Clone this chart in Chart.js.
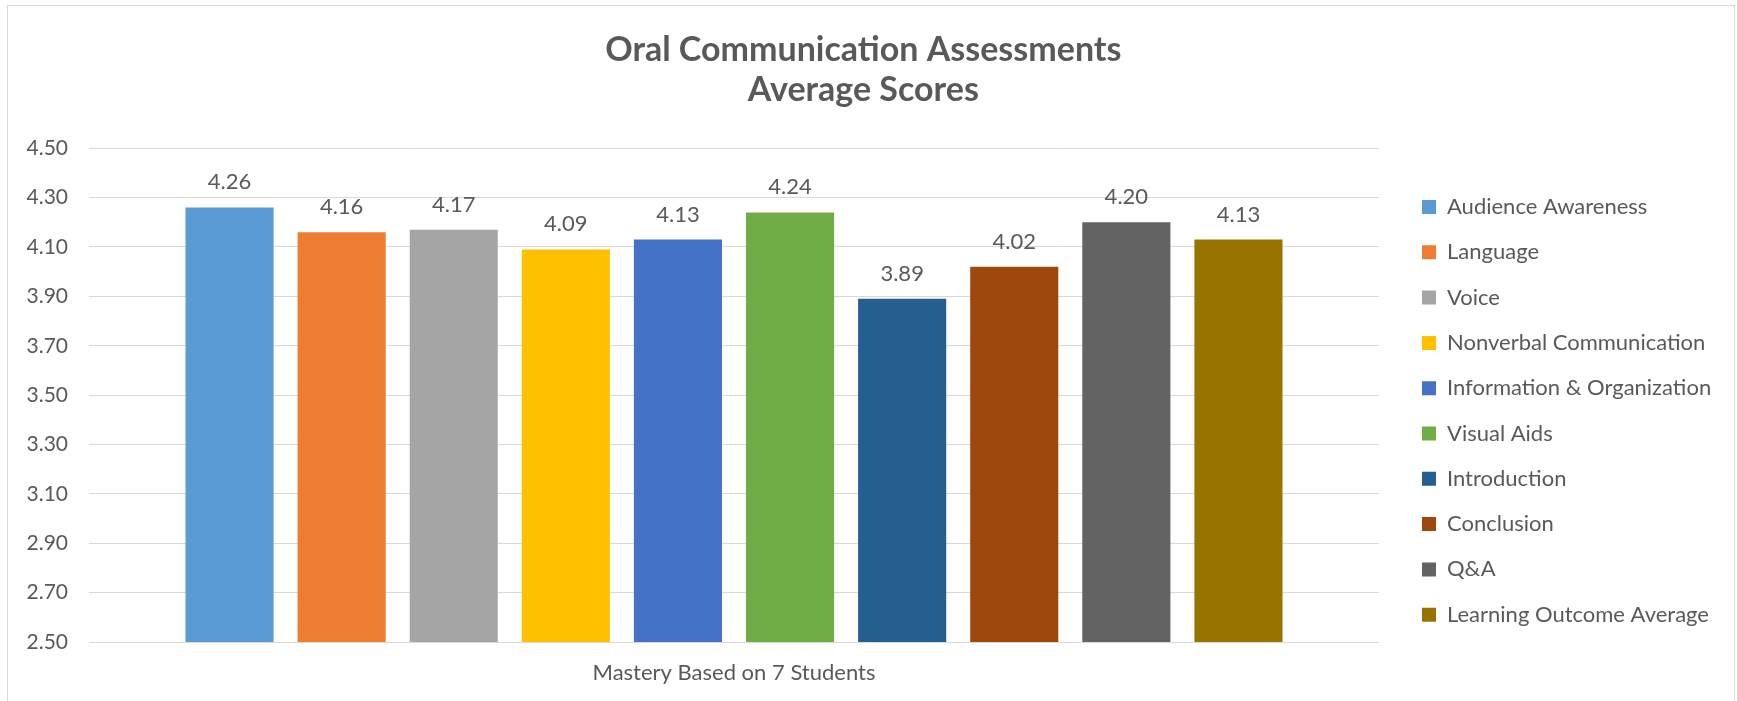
<!DOCTYPE html>
<html>
<head>
<meta charset="utf-8">
<title>Oral Communication Assessments</title>
<script src="https://cdn.jsdelivr.net/npm/chart.js@4.4.0/dist/chart.umd.min.js"></script>
<style>
  html, body { margin: 0; padding: 0; background: #fff; }
</style>
</head>
<body>
<canvas id="scoreChart" width="1737" height="701"></canvas>
<script>
// Chart data
const categories = ['Mastery Based on 7 Students'];
const seriesNames = [
    'Audience Awareness',
    'Language',
    'Voice',
    'Nonverbal Communication',
    'Information & Organization',
    'Visual Aids',
    'Introduction',
    'Conclusion',
    'Q&A',
    'Learning Outcome Average'
];
const seriesValues = [4.26, 4.16, 4.17, 4.09, 4.13, 4.24, 3.89, 4.02, 4.20, 4.13];
const seriesColors = ['#5B9BD5', '#ED7D31', '#A5A5A5', '#FFC000', '#4472C4', '#70AD47', '#255E91', '#9E480E', '#636363', '#997300'];
const yMin = 2.5;
const yMax = 4.5;
const yStep = 0.2;

const textColor = '#595959';
const fontName = 'Lato';
Chart.defaults.font.family = fontName;
Chart.defaults.color = textColor;

// Measure text so the plot and legend land where the reference has them
// (Chart.js axes take tick padding on both sides of the labels)
const measureCtx = document.createElement('canvas').getContext('2d');
measureCtx.font = '22px ' + fontName;
const widestName = Math.max(...seriesNames.map(n => measureCtx.measureText(n).width));
measureCtx.font = '21px ' + fontName;
const widestTick = measureCtx.measureText(yMax.toFixed(2)).width;

const legendPadding = 23.3;
const legendWidth = legendPadding + 14 + 11 + widestName + 10;
const rightPad = Math.max(0, 1737 - 1398.7 - legendWidth);
const leftPad = Math.max(0, 89 - 42 - widestTick);

// Values above the bars
const valueLabels = {
    id: 'valueLabels',
    afterDatasetsDraw(chart) {
        const ctx = chart.ctx;
        ctx.save();
        ctx.font = '22px ' + fontName;
        ctx.fillStyle = textColor;
        ctx.textAlign = 'center';
        ctx.textBaseline = 'alphabetic';
        chart.data.datasets.forEach((ds, i) => {
            chart.getDatasetMeta(i).data.forEach((bar, j) => {
                ctx.fillText(ds.data[j].toFixed(2), bar.x, bar.y - 18);
            });
        });
        ctx.restore();
    }
};

// White background and thin frame
const frame = {
    id: 'frame',
    beforeDraw(chart) {
        const ctx = chart.ctx;
        ctx.save();
        ctx.fillStyle = '#ffffff';
        ctx.fillRect(0, 0, chart.width, chart.height);
        ctx.strokeStyle = '#d9d9d9';
        ctx.lineWidth = 1;
        ctx.strokeRect(7.5, 5.5, 1727, 720);
        ctx.restore();
    }
};

const datasets = seriesNames.map((name, i) => ({
    label: name,
    data: [seriesValues[i]],
    backgroundColor: seriesColors[i],
    borderWidth: 0,
    yAxisID: 'y',
    categoryPercentage: 0.869,
    barPercentage: 0.786
}));

new Chart(document.getElementById('scoreChart'), {
    type: 'bar',
    data: { labels: categories, datasets: datasets },
    options: {
        responsive: false,
        animation: false,
        devicePixelRatio: 1,
        layout: { padding: { left: leftPad, right: rightPad, top: 0, bottom: 6.8 } },
        plugins: {
            title: {
                display: true,
                text: ['Oral Communication Assessments', 'Average Scores'],
                color: textColor,
                font: { size: 34, weight: 'bold', lineHeight: 1.18 },
                padding: { top: 30, bottom: 38 }
            },
            legend: {
                position: 'right',
                align: 'start',
                maxWidth: 420,
                // empty title only pushes the items down to where the reference has them
                title: { display: true, text: '', font: { size: 10, lineHeight: 1.2 }, padding: { top: 0, bottom: 160.7 } },
                labels: {
                    boxWidth: 14,
                    boxHeight: 14,
                    padding: legendPadding,
                    color: textColor,
                    font: { size: 22 }
                }
            },
            tooltip: { enabled: false }
        },
        scales: {
            x: {
                grid: { display: false, drawTicks: true, tickLength: 9.8 },
                border: { display: false },
                ticks: { color: textColor, font: { size: 22 }, padding: 8, maxRotation: 0, minRotation: 0, autoSkip: false }
            },
            y: {
                min: yMin,
                max: yMax,
                grid: { color: '#d9d9d9', drawTicks: false },
                border: { display: false },
                ticks: {
                    stepSize: yStep,
                    color: textColor,
                    font: { size: 21 },
                    padding: 21,
                    callback: v => v.toFixed(2)
                }
            },
            gap: {
                type: 'linear',
                position: 'right',
                grid: { display: false, drawTicks: false },
                border: { display: false },
                ticks: { display: false },
                afterFit(scale) { scale.width = 19.7; }
            }
        }
    },
    plugins: [frame, valueLabels]
});
</script>
</body>
</html>
